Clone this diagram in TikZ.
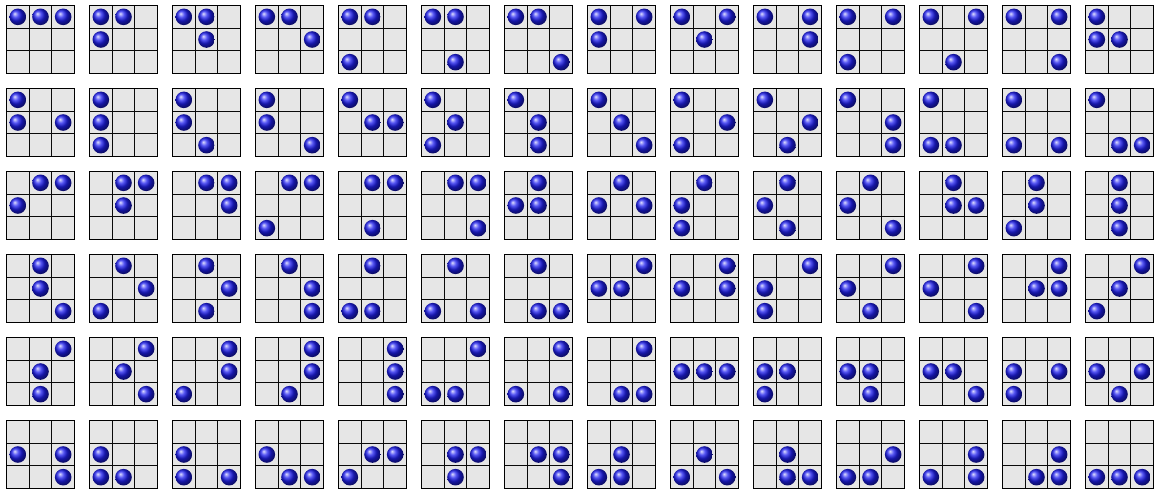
\documentclass[tikz,border=0pt]{standalone}
\newcount\tilecnt
\tikzset{
  tilebg/.style={fill={rgb,255:red,230;green,230;blue,230}},
  gridline/.style={draw={rgb,255:red,10;green,10;blue,10},line width=1.1pt},
  tileframe/.style={draw=black,line width=1.8pt},
  ballstyle/.style={shading=ball,ball color={rgb,255:red,30;green,30;blue,240}}
}
\begin{document}
\begin{tikzpicture}[x=1pt,y=-1pt]
\useasboundingbox (0,0) rectangle (1157,490);
\global\tilecnt=0
\foreach \a in {1,...,7}{
 \pgfmathtruncatemacro\bs{\a+1}
 \foreach \b in {\bs,...,8}{
  \pgfmathtruncatemacro\cs{\b+1}
  \foreach \c in {\cs,...,9}{
    \pgfmathtruncatemacro\col{mod(\the\tilecnt,14)}
    \pgfmathtruncatemacro\row{div(\the\tilecnt,14)}
    \pgfmathsetmacro\xo{6.5+83*\col}
    \pgfmathsetmacro\yo{5.5+83*\row}
    \begin{scope}[shift={(\xo,\yo)}]
      \fill[tilebg] (0,0) rectangle (68,68);
      \draw[gridline] (22.67,0)--(22.67,68) (45.33,0)--(45.33,68) (0,22.67)--(68,22.67) (0,45.33)--(68,45.33);
      \draw[tileframe] (0,0) rectangle (68,68);
      \foreach \k in {\a,\b,\c}{
        \pgfmathtruncatemacro\kr{div(\k-1,3)}
        \pgfmathtruncatemacro\kc{mod(\k-1,3)}
        \shade[ballstyle] (11.33+22.67*\kc, 11.33+22.67*\kr) circle (8.3);
      }
    \end{scope}
    \global\advance\tilecnt by 1
  }}}
\end{tikzpicture}
\end{document}
